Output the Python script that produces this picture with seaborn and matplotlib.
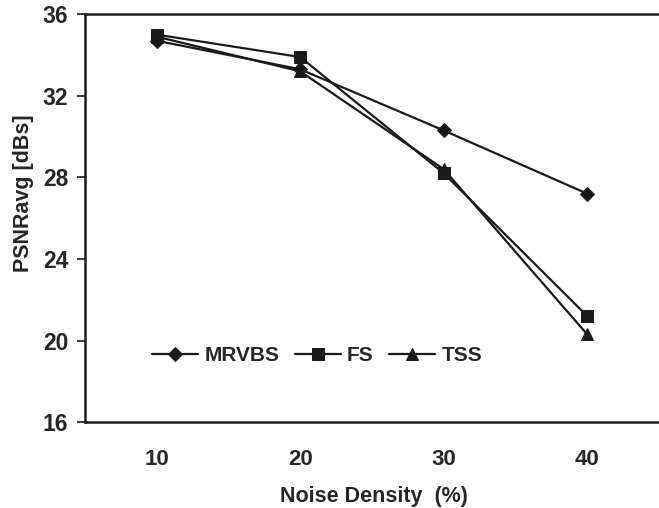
import pandas as pd
import matplotlib
matplotlib.use("Agg")
import matplotlib.pyplot as plt
import seaborn as sns

# values
density = [10, 20, 30, 40]
mrvbs = [34.7, 33.3, 30.3, 27.2]
fs = [35.0, 33.9, 28.2, 21.2]
tss = [34.9, 33.2, 28.4, 20.3]
methods = ["MRVBS", "FS", "TSS"]

df = pd.DataFrame({
    "density": density * 3,
    "psnr": mrvbs + fs + tss,
    "method": [m for m in methods for _ in density],
})

sns.set_style("white")
plt.rcParams["font.family"] = ["Liberation Sans", "DejaVu Sans"]
plt.rcParams["font.weight"] = "bold"

fig = plt.figure(figsize=(6.59, 5.08), dpi=100)
ax = fig.add_axes([0.129, 0.169, 0.871, 0.803])

ink = "#1a1a1a"
mk = {"MRVBS": "D", "FS": "s", "TSS": "^"}
sns.lineplot(data=df, x="density", y="psnr", hue="method", style="method",
             palette={m: ink for m in methods}, markers=mk,
             dashes=False, markersize=9, linewidth=1.6,
             markeredgecolor=ink, ax=ax)
# diamonds read a bit smaller than the others
for line in ax.lines:
    if line.get_marker() == "D":
        line.set_markersize(7.5)

ax.set_xlim(5, 45)
ax.set_ylim(16, 36)
ax.set_yticks([16, 20, 24, 28, 32, 36])
ax.set_xticks([5, 15, 25, 35, 45])
ax.set_xticklabels([])
ax.set_xticks(density, minor=True)
ax.set_xticklabels([str(d) for d in density], minor=True)
ax.tick_params(axis="x", which="major", direction="in", length=5, width=1, color=ink)
ax.tick_params(axis="x", which="minor", length=0, pad=19, labelsize=16)
ax.tick_params(axis="y", direction="out", length=6, width=1.2, color=ink,
               labelsize=16.5, pad=6, left=True)

for s in ["left", "top", "bottom"]:
    ax.spines[s].set_color(ink)
    ax.spines[s].set_linewidth(1.8)
ax.spines["right"].set_visible(False)

ax.set_xlabel("Noise Density  (%)", fontsize=15.5, fontweight="bold")
ax.set_ylabel("PSNRavg [dBs]", fontsize=15.5, fontweight="bold")
ax.xaxis.set_label_coords(0.503, -0.157)
ax.yaxis.set_label_coords(-0.088, 0.561)

leg = ax.legend(loc="center left", bbox_to_anchor=(0.117, 0.163), ncol=3, frameon=False,
                fontsize=15, handlelength=2.2, handletextpad=0.3, columnspacing=0.75,
                borderpad=0, borderaxespad=0, title=None)
for h in leg.legend_handles:
    h.set_markersize(9 if h.get_marker() != "D" else 7.5)

fig.savefig("out.png", dpi=100)
